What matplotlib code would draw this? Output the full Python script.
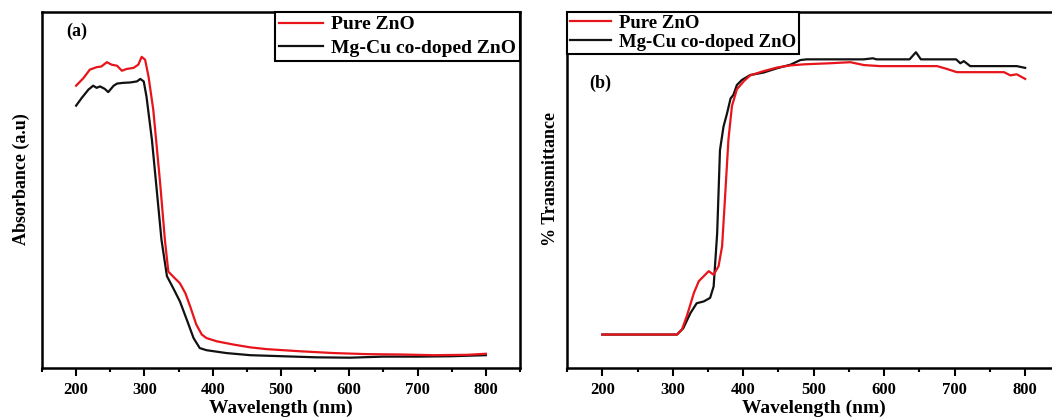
import matplotlib
matplotlib.use("Agg")
import matplotlib.pyplot as plt
from matplotlib.ticker import MultipleLocator

plt.rcParams["font.family"] = ["Liberation Serif", "DejaVu Serif"]
plt.rcParams["font.weight"] = "bold"

# (a) absorbance, arbitrary units
abs_pure_x = [200, 211, 220, 230, 237, 245, 252, 260, 267, 274, 284, 291, 296, 301, 306,
              313, 323, 330, 335, 342, 352, 360, 367, 376, 384, 391, 406, 430, 455, 479,
              528, 577, 625, 674, 723, 772, 800]
abs_pure_y = [0.793, 0.815, 0.838, 0.845, 0.847, 0.859, 0.852, 0.849, 0.835, 0.840, 0.843,
              0.852, 0.874, 0.866, 0.819, 0.725, 0.520, 0.360, 0.271, 0.257, 0.238, 0.210,
              0.173, 0.122, 0.094, 0.084, 0.075, 0.066, 0.058, 0.053, 0.047, 0.042, 0.039,
              0.038, 0.036, 0.037, 0.040]
abs_doped_x = [200, 208, 218, 225, 230, 235, 242, 247, 255, 260, 269, 279, 289, 294, 299,
               303, 311, 318, 325, 333, 342, 352, 362, 372, 381, 391, 420, 455, 503, 552,
               601, 650, 699, 748, 800]
abs_doped_y = [0.737, 0.758, 0.782, 0.793, 0.787, 0.791, 0.784, 0.775, 0.793, 0.799, 0.801,
               0.802, 0.805, 0.812, 0.805, 0.763, 0.641, 0.501, 0.360, 0.258, 0.225, 0.187,
               0.136, 0.084, 0.056, 0.050, 0.042, 0.036, 0.033, 0.030, 0.029, 0.032, 0.032,
               0.033, 0.036]

# (b) transmittance (%)
tr_pure_x = [200, 306, 313, 320, 330, 337, 344, 351, 358, 365, 370, 374, 379, 384, 391,
             401, 410, 429, 448, 467, 486, 523, 552, 571, 594, 618, 675, 689, 703, 770,
             779, 788, 800]
tr_pure_y = [9.4, 9.4, 10.8, 14.6, 21.1, 24.4, 25.8, 27.2, 26.2, 28.6, 34.2, 47.3, 64.2,
             73.6, 78.3, 80.6, 82.2, 83.4, 84.4, 85.0, 85.3, 85.6, 85.9, 85.1, 84.8, 84.8,
             84.8, 84.0, 83.1, 83.1, 82.2, 82.5, 81.2]
tr_doped_x = [200, 306, 315, 325, 334, 344, 353, 358, 363, 367, 372, 377, 382, 386, 391,
              398, 410, 429, 448, 467, 481, 490, 571, 584, 589, 636, 645, 652, 702, 708,
              713, 722, 788, 800]
tr_doped_y = [9.4, 9.4, 11.2, 15.4, 18.2, 18.7, 19.7, 22.9, 37.8, 61.2, 67.8, 71.5, 75.7,
              76.7, 79.5, 80.9, 82.3, 83.0, 84.2, 85.2, 86.5, 86.7, 86.7, 87.0, 86.7, 86.7,
              88.7, 86.7, 86.7, 85.6, 86.2, 84.8, 84.8, 84.3]

labels = ["Pure ZnO", "Mg-Cu co-doped ZnO"]
colors = ["#e8141b", "#111111"]

fig = plt.figure(figsize=(10.52, 4.18), dpi=100)
ax1 = fig.add_axes([0.0399, 0.1196, 0.4544, 0.8517])
ax2 = fig.add_axes([0.539, 0.1196, 0.469, 0.8517])

# panel (a)
ax1.plot(abs_doped_x, abs_doped_y, color=colors[1], lw=1.6, label=labels[1], zorder=2)
ax1.plot(abs_pure_x, abs_pure_y, color=colors[0], lw=1.6, label=labels[0], zorder=3)
ax1.set_ylim(0, 1.0)
ax1.set_ylabel("Absorbance (a.u)", fontsize=13, fontweight="bold")
ax1.yaxis.set_label_coords(-0.026, 0.53)
ax1.text(0.05, 0.945, "(a)", transform=ax1.transAxes, fontsize=13, fontweight="bold",
         ha="left", va="center")
h, l = ax1.get_legend_handles_labels()
ax1.legend(h[::-1], l[::-1], loc="upper right", bbox_to_anchor=(1, 1), borderaxespad=0,
           frameon=True, fancybox=False, edgecolor="black", framealpha=1,
           handlelength=2.3, labelspacing=0.3, borderpad=0.2, handletextpad=0.4,
           prop={"weight": "bold", "size": 14})
ax1.get_legend().get_frame().set_linewidth(1.5)

# panel (b)
ax2.plot(tr_doped_x, tr_doped_y, color=colors[1], lw=1.6, label=labels[1], zorder=2)
ax2.plot(tr_pure_x, tr_pure_y, color=colors[0], lw=1.6, label=labels[0], zorder=3)
ax2.set_ylim(0, 100)
ax2.set_ylabel("% Transmittance", fontsize=13, fontweight="bold")
ax2.yaxis.set_label_coords(-0.016, 0.53)
ax2.text(0.045, 0.80, "(b)", transform=ax2.transAxes, fontsize=13, fontweight="bold",
         ha="left", va="center")
h, l = ax2.get_legend_handles_labels()
ax2.legend(h[::-1], l[::-1], loc="upper left", bbox_to_anchor=(0, 1), borderaxespad=0,
           frameon=True, fancybox=False, edgecolor="black", framealpha=1,
           handlelength=2.2, labelspacing=0.1, borderpad=0.15, handletextpad=0.4,
           prop={"weight": "bold", "size": 13.5})
ax2.get_legend().get_frame().set_linewidth(1.5)

for ax in (ax1, ax2):
    ax.set_xlim(150, 850)
    ax.xaxis.set_major_locator(MultipleLocator(100))
    ax.xaxis.set_minor_locator(MultipleLocator(50))
    ax.set_yticks([])
    ax.tick_params(axis="x", which="major", direction="out", length=6, width=1.5,
                   labelsize=12, pad=4)
    ax.tick_params(axis="x", which="minor", direction="out", length=3, width=1.5)
    for lbl in ax.get_xticklabels():
        lbl.set_fontweight("bold")
    for sp in ax.spines.values():
        sp.set_linewidth(1.8)
    ax.set_xlabel("Wavelength (nm)", fontsize=14, fontweight="bold", labelpad=1)

fig.savefig("out.png", dpi=100)
